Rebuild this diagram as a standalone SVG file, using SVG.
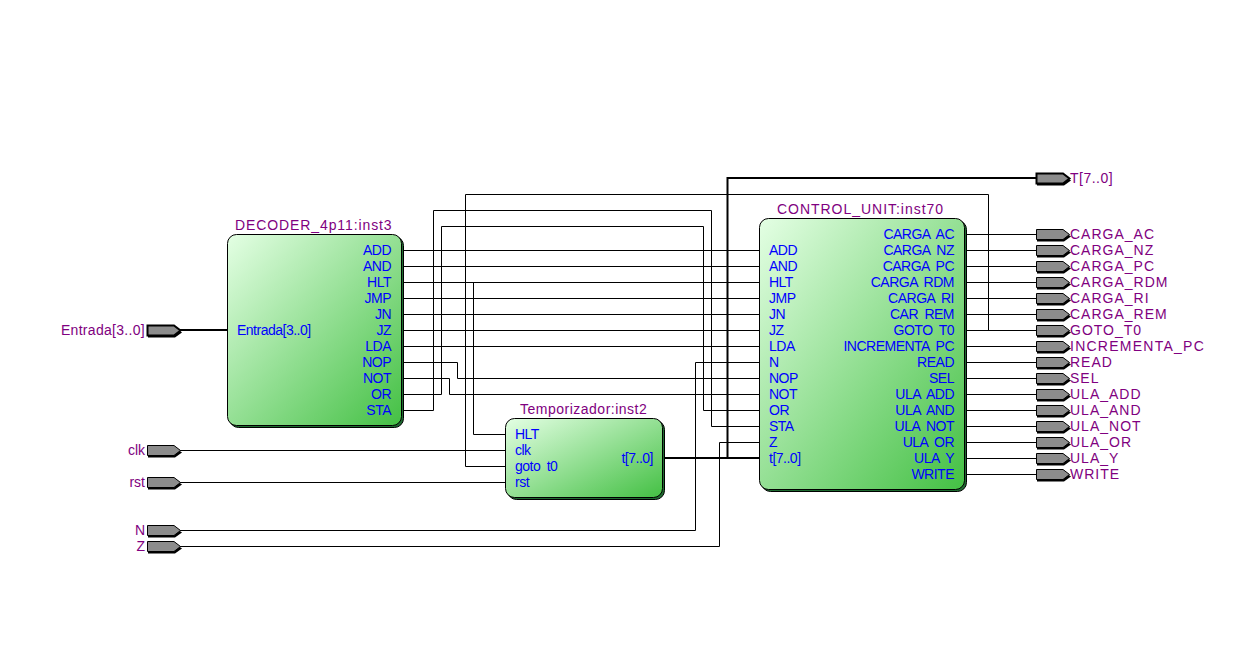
<svg xmlns="http://www.w3.org/2000/svg" width="1237" height="653" viewBox="0 0 1237 653">
<style>
text{font-family:"Liberation Sans",Arial,sans-serif;font-size:14px}
.p{fill:#0000ff;letter-spacing:-0.5px;word-spacing:3px}.pr{fill:#0000ff;letter-spacing:-0.5px;word-spacing:3px;text-anchor:end}
.n{fill:#800080}.nr{fill:#800080;text-anchor:end}.o{letter-spacing:1px}
.w{fill:none;stroke:#000;stroke-width:1}.b{fill:none;stroke:#000;stroke-width:2}
.blk{fill:url(#g);stroke:#000;stroke-width:1}.sh{fill:#1e6a30;stroke:#000;stroke-width:1}
</style>
<defs>
<linearGradient id="g" x1="0" y1="0" x2="1" y2="1"><stop offset="0" stop-color="#e4ffe4"/><stop offset="1" stop-color="#44c044"/></linearGradient>
<g id="pin"><path d="M1,2.500H28L35,7.500L28,12.500H1Z" fill="#000"/><path d="M0.500,0.500H27L33.500,5.500L27,10.500H0.500Z" fill="#8c8c8c" stroke="#000"/></g>
<g id="pinb"><path d="M1,2.500H28L35,7.500L28,12.500H1Z" fill="#000"/><path d="M0.500,0.500H27L33.500,5.500L27,10.500H0.500Z" fill="#8c8c8c" stroke="#000" stroke-width="2"/></g>
</defs>
<rect width="1237" height="653" fill="#fff"/>
<g id="connectors">
<path class="b" d="M180,330H228"/>
<path class="b" d="M664,458H760M727.500,458V178H1037"/>
<path class="w" d="M403,250.500H760M403,266.500H760M403,282.500H760M403,298.500H760M403,314.500H760M403,330.500H760M403,346.500H760"/>
<path class="w" d="M473.500,282.500V434.500H505"/>
<path class="w" d="M403,362.500H457.500V378.500H760M403,378.500H449.500V394.500H760"/>
<path class="w" d="M403,394.500H441.500V226.500H703.500V410.500H760M403,410.500H433.500V210.500H711.500V426.500H760"/>
<path class="w" d="M180,450.500H505M180,482.500H505"/>
<path class="w" d="M180,530.500H695.500V362.500H760M180,546.500H719.500V442.500H760"/>
<path class="w" d="M988.500,330.500V194.500H465.500V466.500H505"/>
<path class="w" d="M966,234.500H1037M966,250.500H1037M966,266.500H1037M966,282.500H1037M966,298.500H1037M966,314.500H1037M966,330.500H1037M966,346.500H1037M966,362.500H1037M966,378.500H1037M966,394.500H1037M966,410.500H1037M966,426.500H1037M966,442.500H1037M966,458.500H1037M966,474.500H1037"/>
</g>
<g id="decoder">
<rect class="sh" x="229.500" y="236.500" width="174" height="191" rx="9"/>
<rect class="blk" x="227.500" y="234.500" width="174" height="191" rx="9"/>
<text class="n" x="235" y="230" letter-spacing="0.9">DECODER_4p11:inst3</text>
<text class="p" x="237" y="335">Entrada[3..0]</text>
<text class="pr" x="391" y="255">ADD</text><text class="pr" x="391" y="271">AND</text><text class="pr" x="391" y="287">HLT</text><text class="pr" x="391" y="303">JMP</text><text class="pr" x="391" y="319">JN</text><text class="pr" x="391" y="335">JZ</text><text class="pr" x="391" y="351">LDA</text><text class="pr" x="391" y="367">NOP</text><text class="pr" x="391" y="383">NOT</text><text class="pr" x="391" y="399">OR</text><text class="pr" x="391" y="415">STA</text>
</g>
<g id="temporizador">
<rect class="sh" x="507.500" y="420.500" width="157" height="79" rx="9"/>
<rect class="blk" x="505.500" y="418.500" width="157" height="79" rx="9"/>
<text class="n" x="520" y="414" letter-spacing="0.5">Temporizador:inst2</text>
<text class="p" x="515" y="439">HLT</text><text class="p" x="515" y="455">clk</text><text class="p" x="515" y="471">goto t0</text><text class="p" x="515" y="487">rst</text>
<text class="pr" x="653" y="463">t[7..0]</text>
</g>
<g id="control">
<rect class="sh" x="761.500" y="220.500" width="205" height="271" rx="9"/>
<rect class="blk" x="759.500" y="218.500" width="205" height="271" rx="9"/>
<text class="n" x="777" y="214" letter-spacing="0.97">CONTROL_UNIT:inst70</text>
<text class="p" x="769" y="255">ADD</text><text class="p" x="769" y="271">AND</text><text class="p" x="769" y="287">HLT</text><text class="p" x="769" y="303">JMP</text><text class="p" x="769" y="319">JN</text><text class="p" x="769" y="335">JZ</text><text class="p" x="769" y="351">LDA</text><text class="p" x="769" y="367">N</text><text class="p" x="769" y="383">NOP</text><text class="p" x="769" y="399">NOT</text><text class="p" x="769" y="415">OR</text><text class="p" x="769" y="431">STA</text><text class="p" x="769" y="447">Z</text><text class="p" x="769" y="463">t[7..0]</text>
<text class="pr" x="954" y="239">CARGA AC</text><text class="pr" x="954" y="255">CARGA NZ</text><text class="pr" x="954" y="271">CARGA PC</text><text class="pr" x="954" y="287">CARGA RDM</text><text class="pr" x="954" y="303">CARGA RI</text><text class="pr" x="954" y="319">CAR REM</text><text class="pr" x="954" y="335">GOTO T0</text><text class="pr" x="954" y="351">INCREMENTA PC</text><text class="pr" x="954" y="367">READ</text><text class="pr" x="954" y="383">SEL</text><text class="pr" x="954" y="399">ULA ADD</text><text class="pr" x="954" y="415">ULA AND</text><text class="pr" x="954" y="431">ULA NOT</text><text class="pr" x="954" y="447">ULA OR</text><text class="pr" x="954" y="463">ULA Y</text><text class="pr" x="954" y="479">WRITE</text>
</g>
<g id="pin-entrada"><use href="#pinb" x="147" y="325"/><text class="nr" x="145" y="335" letter-spacing="0.3">Entrada[3..0]</text></g>
<g id="pin-clk"><use href="#pin" x="147" y="445"/><text class="nr" x="145" y="455">clk</text></g>
<g id="pin-rst"><use href="#pin" x="147" y="477"/><text class="nr" x="145" y="487">rst</text></g>
<g id="pin-n"><use href="#pin" x="147" y="525"/><text class="nr" x="145" y="535">N</text></g>
<g id="pin-z"><use href="#pin" x="147" y="541"/><text class="nr" x="145" y="551">Z</text></g>
<g id="pin-t"><use href="#pinb" x="1036" y="173"/><text class="n" x="1070" y="183" letter-spacing="0.5">T[7..0]</text></g>
<g id="pin-carga-ac"><use href="#pin" x="1036" y="229"/><text class="n o" x="1070" y="239">CARGA_AC</text></g>
<g id="pin-carga-nz"><use href="#pin" x="1036" y="245"/><text class="n o" x="1070" y="255">CARGA_NZ</text></g>
<g id="pin-carga-pc"><use href="#pin" x="1036" y="261"/><text class="n o" x="1070" y="271">CARGA_PC</text></g>
<g id="pin-carga-rdm"><use href="#pin" x="1036" y="277"/><text class="n o" x="1070" y="287">CARGA_RDM</text></g>
<g id="pin-carga-ri"><use href="#pin" x="1036" y="293"/><text class="n o" x="1070" y="303">CARGA_RI</text></g>
<g id="pin-carga-rem"><use href="#pin" x="1036" y="309"/><text class="n o" x="1070" y="319">CARGA_REM</text></g>
<g id="pin-goto"><use href="#pin" x="1036" y="325"/><text class="n o" x="1070" y="335">GOTO_T0</text></g>
<g id="pin-incrementa"><use href="#pin" x="1036" y="341"/><text class="n" x="1070" y="351" letter-spacing="1.25">INCREMENTA_PC</text></g>
<g id="pin-read"><use href="#pin" x="1036" y="357"/><text class="n o" x="1070" y="367">READ</text></g>
<g id="pin-sel"><use href="#pin" x="1036" y="373"/><text class="n o" x="1070" y="383">SEL</text></g>
<g id="pin-ula-add"><use href="#pin" x="1036" y="389"/><text class="n o" x="1070" y="399">ULA_ADD</text></g>
<g id="pin-ula-and"><use href="#pin" x="1036" y="405"/><text class="n o" x="1070" y="415">ULA_AND</text></g>
<g id="pin-ula-not"><use href="#pin" x="1036" y="421"/><text class="n o" x="1070" y="431">ULA_NOT</text></g>
<g id="pin-ula-or"><use href="#pin" x="1036" y="437"/><text class="n o" x="1070" y="447">ULA_OR</text></g>
<g id="pin-ula-y"><use href="#pin" x="1036" y="453"/><text class="n o" x="1070" y="463">ULA_Y</text></g>
<g id="pin-write"><use href="#pin" x="1036" y="469"/><text class="n o" x="1070" y="479">WRITE</text></g>
</svg>
